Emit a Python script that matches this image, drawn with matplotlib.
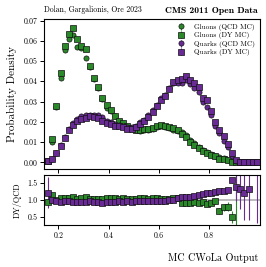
import numpy as np
import matplotlib
matplotlib.use("Agg")
import matplotlib.pyplot as plt

plt.rcParams["font.family"] = "serif"
plt.rcParams["font.serif"] = ["cmr10", "DejaVu Serif"]
plt.rcParams["mathtext.fontset"] = "cm"
plt.rcParams["axes.formatter.use_mathtext"] = True

# histogram bins of the classifier output (only the populated range is shown)
bin_edges = np.linspace(0.15, 1.0, 52)
bin_centers = 0.5 * (bin_edges[1:] + bin_edges[:-1])

# probability density
gluon_qcd = [0.0009, 0.0099, 0.0275, 0.0414, 0.0553, 0.0609, 0.0627, 0.0569, 0.0566, 0.0515,
             0.0470, 0.0413, 0.0367, 0.0312, 0.0266, 0.0253, 0.0227, 0.0199, 0.0190, 0.0174,
             0.0166, 0.0158, 0.0157, 0.0160, 0.0162, 0.0165, 0.0176, 0.0178, 0.0176, 0.0168,
             0.0162, 0.0153, 0.0150, 0.0134, 0.0112, 0.0095, 0.0078, 0.0060, 0.0050, 0.0040,
             0.0031, 0.0026, 0.0019, 0.0012, 0.0009, 0.0004, 0.0002, 0.0001, 0.0001, 0.0001, 0.0001]
gluon_dy = [0.0008, 0.0113, 0.0278, 0.0440, 0.0572, 0.0633, 0.0663, 0.0610, 0.0575, 0.0558,
            0.0476, 0.0418, 0.0372, 0.0318, 0.0283, 0.0257, 0.0230, 0.0203, 0.0194, 0.0178,
            0.0170, 0.0162, 0.0162, 0.0165, 0.0166, 0.0170, 0.0181, 0.0184, 0.0180, 0.0174,
            0.0168, 0.0160, 0.0138, 0.0124, 0.0100, 0.0084, 0.0070, 0.0054, 0.0044, 0.0034,
            0.0029, 0.0018, 0.0015, 0.0010, 0.0004, 0.0003, 0.0001, 0.0001, 0.0001, 0.0001, 0.0001]
quark_qcd = [0.00065, 0.0017, 0.0048, 0.0087, 0.0126, 0.0166, 0.0196, 0.0215, 0.0227, 0.0234,
             0.0236, 0.0235, 0.0234, 0.0224, 0.0204, 0.0199, 0.0191, 0.0186, 0.0179, 0.0172,
             0.0172, 0.0180, 0.0197, 0.0209, 0.0232, 0.0256, 0.0282, 0.0317, 0.0333, 0.0365,
             0.0392, 0.0390, 0.0392, 0.0405, 0.0385, 0.0365, 0.0345, 0.0300, 0.0272, 0.0235,
             0.0180, 0.0145, 0.0105, 0.0075, 0.0030, 0.0008, 0.0004, 0.0003, 0.0003, 0.0003, 0.0003]
quark_dy = [0.0008, 0.0017, 0.0046, 0.0083, 0.0122, 0.0160, 0.0183, 0.0204, 0.0214, 0.0220,
            0.0227, 0.0223, 0.0220, 0.0204, 0.0195, 0.0190, 0.0181, 0.0179, 0.0172, 0.0166,
            0.0166, 0.0173, 0.0190, 0.0203, 0.0225, 0.0250, 0.0276, 0.0310, 0.0328, 0.0360,
            0.0397, 0.0405, 0.0410, 0.0425, 0.0405, 0.0390, 0.0372, 0.0318, 0.0310, 0.0255,
            0.0198, 0.0160, 0.0128, 0.0088, 0.0048, 0.0011, 0.0004, 0.0003, 0.0003, 0.0003, 0.0003]

# DY / QCD ratios and their uncertainties
gluon_ratio = [0.93, 1.14, 1.01, 1.05, 1.06, 1.05, 1.08, 1.03, 1.06, 1.10,
               1.02, 1.04, 1.02, 1.03, 1.05, 1.06, 1.05, 1.04, 1.06, 1.04,
               1.02, 1.02, 1.06, 1.05, 1.04, 1.05, 1.07, 1.04, 1.04, 1.03,
               1.06, 1.07, 0.90, 0.92, 0.90, 0.94, 0.91, 0.93, 0.87, 0.90,
               0.96, 0.67, 0.78, 0.80, 0.50, 2.20, np.nan, np.nan, np.nan, np.nan, np.nan]
gluon_ratio_err = [0.10, 0.04, 0.02, 0.02, 0.02, 0.02, 0.02, 0.02, 0.02, 0.02,
                   0.02, 0.02, 0.02, 0.02, 0.02, 0.02, 0.02, 0.02, 0.02, 0.02,
                   0.02, 0.02, 0.02, 0.02, 0.02, 0.02, 0.02, 0.02, 0.02, 0.02,
                   0.02, 0.02, 0.02, 0.03, 0.03, 0.03, 0.04, 0.04, 0.05, 0.06,
                   0.07, 0.08, 0.10, 0.14, 0.18, 2.10, 0, 0, 0, 0, 0]
quark_ratio = [1.22, 0.99, 0.97, 0.94, 0.97, 0.96, 0.93, 0.95, 0.95, 0.95,
               0.96, 0.95, 0.94, 0.92, 0.95, 0.95, 0.94, 0.96, 0.95, 0.96,
               0.95, 0.96, 0.97, 0.96, 0.97, 0.97, 0.98, 0.96, 0.98, 0.99,
               1.00, 1.05, 1.09, 1.10, 1.10, 1.13, 1.15, 1.18, 1.20, 1.22,
               1.25, 1.26, 1.26, 1.30, 1.59, 1.38, 1.32, 1.21, 1.34, np.nan, 2.20]
quark_ratio_err = [0.46, 0.08, 0.04, 0.03, 0.02, 0.02, 0.02, 0.02, 0.02, 0.02,
                   0.02, 0.02, 0.02, 0.02, 0.02, 0.02, 0.02, 0.02, 0.02, 0.02,
                   0.02, 0.02, 0.02, 0.02, 0.02, 0.02, 0.02, 0.02, 0.02, 0.02,
                   0.02, 0.02, 0.02, 0.02, 0.02, 0.02, 0.02, 0.02, 0.02, 0.02,
                   0.03, 0.03, 0.04, 0.05, 0.08, 0.40, 0.60, 0.80, 0.95, 0, 1.90]

green = "#2a8a2a"
purple = "#6a2a96"

fig = plt.figure(figsize=(2.66, 2.67), dpi=100)
ax = fig.add_axes([0.167, 0.367, 0.809, 0.560])
rax = fig.add_axes([0.167, 0.157, 0.809, 0.188])

zeros = np.zeros(len(bin_centers))
style = dict(ls="none", ms=3.7, mec="#111111", mew=0.5, elinewidth=0.8)
ax.errorbar(bin_centers, gluon_qcd, yerr=zeros, marker="o", color=green, label="Gluons (QCD MC)", **style)
ax.errorbar(bin_centers, gluon_dy, yerr=zeros, marker="s", color=green, label="Gluons (DY MC)", **style)
ax.errorbar(bin_centers, quark_qcd, yerr=zeros, marker="o", color=purple, label="Quarks (QCD MC)", **style)
ax.errorbar(bin_centers, quark_dy, yerr=zeros, marker="s", color=purple, label="Quarks (DY MC)", **style)

rax.axhline(1.0, color="#b0b0b0", lw=1.2, zorder=0)
rax.errorbar(bin_centers, gluon_ratio, yerr=gluon_ratio_err, marker="s", color=green, **style)
rax.errorbar(bin_centers, quark_ratio, yerr=quark_ratio_err, marker="s", color=purple, **style)

ax.set_xlim(0.144, 1.002)
ax.set_ylim(-0.0033, 0.0705)
ax.set_yticks(np.arange(0, 0.071, 0.01))
ax.set_yticklabels(["%.2f" % t for t in np.arange(0, 0.071, 0.01)])
ax.set_xticks([0.2, 0.4, 0.6, 0.8])
ax.tick_params(axis="x", labelbottom=False)

rax.set_xlim(0.144, 1.002)
rax.set_ylim(0.25, 1.75)
rax.set_yticks([0.5, 1.0, 1.5])
rax.set_yticklabels(["0.5", "1.0", "1.5"])
rax.set_xticks([0.2, 0.4, 0.6, 0.8])
rax.set_xticklabels(["0.2", "0.4", "0.6", "0.8"])

for a in (ax, rax):
    a.tick_params(direction="out", length=3, width=0.7, labelsize=5.7, pad=2)
    for s in a.spines.values():
        s.set_linewidth(0.8)

ax.legend(loc="upper right", frameon=False, fontsize=5.2, handlelength=0.8,
          handletextpad=1.4, labelspacing=0.2, borderaxespad=0.2)

fig.text(0.167, 0.962, "Dolan, Gargalionis, Ore 2023", fontsize=5.6, va="center", ha="left")
fig.text(0.97, 0.959, "CMS 2011 Open Data", fontsize=6.9, va="center", ha="right",
         family=["cmb10", "DejaVu Serif"], fontweight="bold")
fig.text(0.045, 0.647, "Probability Density", fontsize=8, rotation=90, va="center", ha="center")
fig.text(0.064, 0.251, "DY/QCD", fontsize=6, rotation=90, va="center", ha="center")
fig.text(0.97, 0.034, "MC CWoLa Output", fontsize=7.3, va="center", ha="right")

fig.savefig("out.png", dpi=100)
